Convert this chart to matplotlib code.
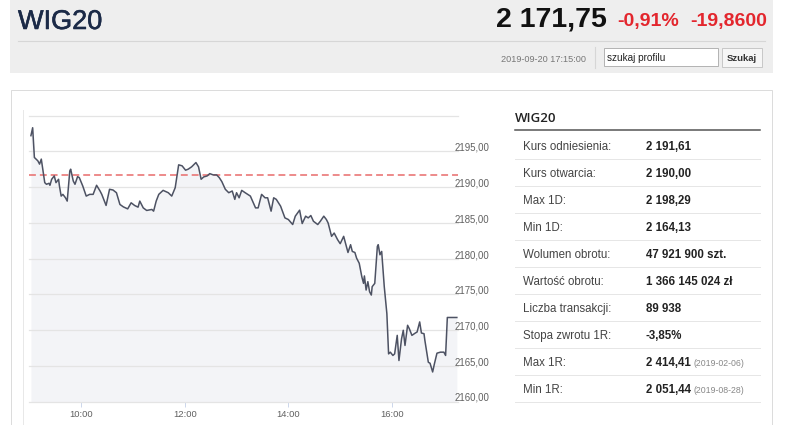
import matplotlib
matplotlib.use('Agg')
import matplotlib.pyplot as plt
import matplotlib.transforms as mtransforms
import matplotlib.patheffects as pe
from matplotlib.patches import Rectangle
from matplotlib.lines import Line2D
from matplotlib import font_manager

# ---------------- data ----------------
title = "WIG20"
last_price = "2 171,75"
change_pct = "-0,91%"
change_abs = "-19,8600"
timestamp = "2019-09-20 17:15:00"
search_placeholder = "szukaj profilu"
search_button = "Szukaj"

# intraday series: minutes after 09:00 and index level
minutes = [2, 4, 6, 10, 12, 14, 18, 20, 23, 24, 26, 29, 31, 34, 35, 37, 39, 42, 44, 47,
           48, 51, 53, 56, 58, 62, 66, 70, 74, 78, 82, 84, 87, 89, 93, 97, 101, 105, 109, 114,
           118, 122, 126, 128, 132, 136, 142, 144, 147, 150, 155, 161, 165, 169, 173, 177, 181, 184, 188, 193,
           196, 199, 202, 206, 209, 213, 217, 220, 223, 227, 231, 235, 238, 240, 243, 246, 250, 256, 262, 265,
           269, 273, 276, 280, 283, 286, 291, 296, 300, 305, 308, 313, 316, 320, 323, 326, 329, 334, 337, 341,
           344, 346, 350, 353, 357, 360, 364, 369, 372, 374, 377, 379, 382, 385, 387, 388, 390, 392, 394, 396,
           397, 400, 403, 404, 406, 408, 411, 414, 416, 418, 421, 423, 426, 428, 431, 433, 435, 438, 440, 443,
           447, 449, 452, 454, 457, 458, 462, 464, 467, 469, 472, 476, 480, 482, 484, 495]
values = [2197.18, 2198.29, 2194.13, 2193.66, 2193.20, 2193.90, 2190.61, 2190.38, 2190.52, 2190.24,
          2191.08, 2191.55, 2190.61, 2191.08, 2190.14, 2188.73, 2188.97, 2188.49, 2188.03, 2192.25,
          2192.49, 2190.84, 2190.38, 2191.45, 2191.31, 2190.14, 2188.73, 2188.97, 2188.97, 2190.24,
          2189.44, 2188.97, 2188.03, 2187.42, 2189.68, 2189.58, 2189.20, 2187.56, 2187.22, 2186.94,
          2187.79, 2187.42, 2187.18, 2188.03, 2187.08, 2186.72, 2186.86, 2186.62, 2188.03, 2188.97,
          2189.53, 2189.20, 2188.73, 2189.90, 2193.10, 2192.96, 2192.35, 2192.49, 2192.82, 2193.42,
          2192.82, 2191.08, 2191.41, 2191.55, 2191.87, 2191.69, 2191.69, 2191.31, 2190.75, 2189.68,
          2189.20, 2189.44, 2188.27, 2189.20, 2188.49, 2189.53, 2189.20, 2188.73, 2187.08, 2187.08,
          2188.97, 2188.49, 2188.49, 2186.62, 2188.49, 2188.27, 2187.32, 2185.68, 2185.45, 2184.75,
          2185.92, 2186.76, 2184.89, 2185.92, 2185.68, 2186.01, 2185.21, 2184.75, 2185.21, 2185.92,
          2185.45, 2184.97, 2183.10, 2183.56, 2182.63, 2182.07, 2183.10, 2180.84, 2181.93, 2180.99,
          2180.84, 2180.04, 2179.34, 2177.46, 2176.52, 2177.56, 2175.59, 2176.76, 2175.35, 2174.89,
          2176.06, 2176.52, 2181.69, 2181.93, 2180.52, 2180.99, 2176.06, 2172.30, 2166.66, 2166.90,
          2166.44, 2166.66, 2169.25, 2165.73, 2168.77, 2169.96, 2167.84, 2170.66, 2170.18, 2169.25,
          2169.58, 2169.72, 2171.13, 2169.58, 2169.48, 2168.55, 2165.49, 2165.35, 2164.13, 2165.25,
          2166.76, 2166.90, 2166.90, 2166.44, 2171.75, 2171.75]
reference_level = 2191.61

x_range = [0, 496]
y_range = [2160, 2200]
grid_levels = [2160, 2165, 2170, 2175, 2180, 2185, 2190, 2195, 2200]
ylabel_levels = [2160, 2165, 2170, 2175, 2180, 2185, 2190, 2195]
ylabel_texts = ["2160,00", "2165,00", "2170,00", "2175,00", "2180,00", "2185,00", "2190,00", "2195,00"]
xtick_minutes = [60, 180, 300, 420]
xtick_labels = ["10:00", "12:00", "14:00", "16:00"]

table_title = "WIG20"
row_labels = ["Kurs odniesienia:", "Kurs otwarcia:", "Max 1D:", "Min 1D:", "Wolumen obrotu:",
              "Wartość obrotu:", "Liczba transakcji:", "Stopa zwrotu 1R:", "Max 1R:", "Min 1R:"]
row_values = ["2 191,61", "2 190,00", "2 198,29", "2 164,13", "47 921 900 szt.",
              "1 366 145 024 zł", "89 938", "-3,85%", "2 414,41", "2 051,44"]
row_notes = ["", "", "", "", "", "", "", "", "(2019-02-06)", "(2019-08-28)"]

# ---------------- setup ----------------
names = {f.name for f in font_manager.fontManager.ttflist}
NARROW = 'Liberation Sans Narrow' in names
plt.rcParams['font.family'] = ['Liberation Sans', 'DejaVu Sans']

W, H = 786, 425
fig = plt.figure(figsize=(W / 100, H / 100), dpi=100, facecolor='white')


def ptext(x, y, s, **kw):
    kw.setdefault('va', 'center_baseline')
    return fig.text(x / W, 1 - y / H, s, **kw)


def prect(x0, y0, x1, y1, **kw):
    fig.add_artist(Rectangle((x0 / W, 1 - y1 / H), (x1 - x0) / W, (y1 - y0) / H,
                             transform=fig.transFigure, **kw))


def pline(x0, y0, x1, y1, **kw):
    fig.add_artist(Line2D([x0 / W, x1 / W], [1 - y0 / H, 1 - y1 / H],
                          transform=fig.transFigure, **kw))


# ---------------- header ----------------
prect(10, 0, 773, 73, fc='#eeeeee', ec='none', zorder=-3)
if NARROW:
    hfam = ['Liberation Sans Narrow', 'Liberation Sans']
    s_title, s_price, s_chg = 22, 23, 16
else:
    hfam = ['Liberation Sans', 'DejaVu Sans']
    s_title, s_price, s_chg = 19.5, 20.5, 14
t = ptext(18, 19, title, ha='left', size=s_title, color='#1b2a47', family=hfam)
t.set_path_effects([pe.withStroke(linewidth=0.4, foreground='#1b2a47')])
ptext(607, 16.5, last_price, ha='right', size=s_price, weight='bold', color='#111111', family=hfam)
ptext(617, 19.5, change_pct, ha='left', size=s_chg, weight='bold', color='#e3262d', family=hfam)
ptext(690, 19.5, change_abs, ha='left', size=s_chg, weight='bold', color='#e3262d', family=hfam)
pline(18, 41, 765, 41, color='#d6d6d6', lw=0.8)
ptext(586, 58, timestamp, ha='right', size=6.6, color='#777777')
pline(594.5, 47, 594.5, 68, color='#d6d6d6', lw=0.8)
prect(603.5, 48.5, 718, 65.5, fc='white', ec='#b4b4b4', lw=0.72)
ptext(607, 57, search_placeholder, ha='left', size=7.2, color='#222222')
prect(722, 48, 762, 67, fc='#f6f6f6', ec='#c8c8c8', lw=0.72)
ptext(742, 57.5, search_button, ha='center', size=6.8, weight='bold', color='#333333')

# ---------------- panel ----------------
prect(10.5, 89.5, 771.5, 460, fc='white', ec='#dcdcdc', lw=0.72, zorder=-2)
pline(22.5, 110, 22.5, 425, color='#e8e8e8', lw=0.72)

# ---------------- chart ----------------
ax_l, ax_r, ax_t, ax_b = 29.2, 457.7, 115.5, 401.5
ax = fig.add_axes([ax_l / W, 1 - ax_b / H, (ax_r - ax_l) / W, (ax_b - ax_t) / H])
ax.set_facecolor('none')
for sp in ax.spines.values():
    sp.set_visible(False)
ax.set_xlim(*x_range)
ax.set_ylim(*y_range)
ax.fill_between(minutes, values, y_range[0], color='#f3f4f7', lw=0, zorder=1)
for g in grid_levels:
    ax.axhline(g, color='#e4e4e4', lw=0.9, zorder=2, clip_on=False)
ax.axhline(reference_level, color='#e86b6b', lw=1.1, ls=(0, (4.5, 2.6)), zorder=2.8)
ax.plot(minutes, values, color='#4d5263', lw=1.1, zorder=3, solid_joinstyle='round')

ax.set_yticks([])
ax.set_xticks(xtick_minutes, xtick_labels)
ax.tick_params(axis='x', length=3.6, width=0.7, color='#ccd6eb', labelsize=6.8,
               labelcolor='#606060', pad=2.4)

offset = mtransforms.ScaledTranslation(-3 / 100, 4.5 / 100, fig.dpi_scale_trans)
ytrans = mtransforms.blended_transform_factory(ax.transAxes, ax.transData) + offset
for v, s in zip(ylabel_levels, ylabel_texts):
    ax.text(1.0, v, s, transform=ytrans, ha='left', va='center_baseline', size=6.9,
            color='#606060', clip_on=False)

# ---------------- table ----------------
ptext(515, 117.5, table_title, ha='left', size=9.5, weight='semibold', color='#222222',
      family=['Open Sans', 'Liberation Sans'])
pline(515, 129.5, 760, 129.5, color='#555555', lw=1.1)
for i, (lab, val, note) in enumerate(zip(row_labels, row_values, row_notes)):
    yc = 145 + 27.1 * i
    ptext(523, yc, lab, ha='left', size=8.3, color='#444444')
    ptext(646, yc, val, ha='left', size=8.3, weight='bold', color='#222222')
    if note:
        ptext(693, yc + 0.5, note, ha='left', size=6.3, color='#888888')
    pline(515, yc + 13.5, 760, yc + 13.5, color='#e6e6e6', lw=0.72)

fig.savefig('out.png', dpi=100, facecolor='white')
